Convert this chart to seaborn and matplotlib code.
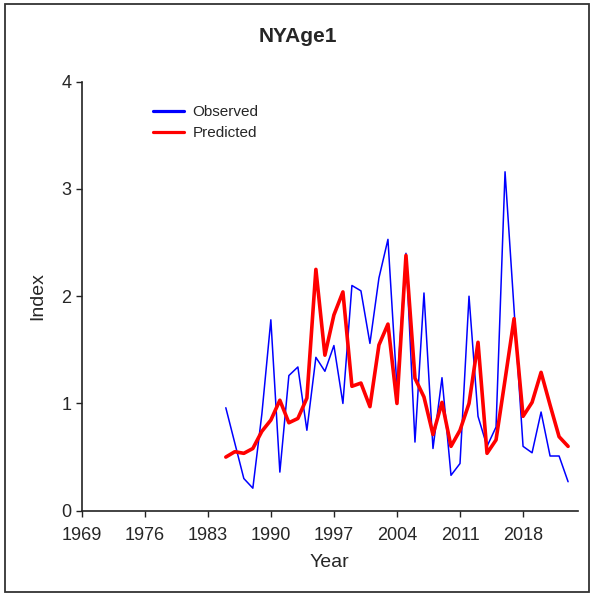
import seaborn as sns
import matplotlib.pyplot as plt
import matplotlib.patches as patches

# Datos
anios = list(range(1985, 2024))
observado = [0.96, 0.63, 0.30, 0.21, 0.90, 1.78, 0.36, 1.26, 1.34, 0.75,
             1.43, 1.30, 1.54, 1.00, 2.10, 2.05, 1.56, 2.17, 2.53, 1.15,
             2.40, 0.64, 2.03, 0.58, 1.24, 0.33, 0.44, 2.00, 0.88, 0.60,
             0.78, 3.16, 1.88, 0.60, 0.54, 0.92, 0.51, 0.51, 0.27]
predicho = [0.50, 0.55, 0.535, 0.58, 0.74, 0.845, 1.03, 0.82, 0.86, 1.05,
            2.25, 1.45, 1.825, 2.04, 1.16, 1.19, 0.97, 1.545, 1.74, 1.00,
            2.38, 1.235, 1.06, 0.71, 1.01, 0.60, 0.75, 1.00, 1.57, 0.535,
            0.66, 1.22, 1.79, 0.88, 1.01, 1.29, 0.985, 0.69, 0.60]
ticks_x = [1969, 1976, 1983, 1990, 1997, 2004, 2011, 2018]
ticks_y = [0, 1, 2, 3, 4]

sns.set_style('ticks')
plt.rcParams['font.family'] = ['Liberation Sans', 'DejaVu Sans']

fig = plt.figure(figsize=(5.92, 5.95), dpi=100)
ax = fig.add_axes([81.7 / 592, 1 - 510.7 / 595, (578 - 81.7) / 592, (510.7 - 81.7) / 595])

sns.lineplot(x=anios, y=observado, color='#0000ff', linewidth=1.1, label='Observed', ax=ax)
sns.lineplot(x=anios, y=predicho, color='#ff0000', linewidth=2.6, label='Predicted', ax=ax)

ax.set_xlim(1969, 2024.1)
ax.set_ylim(0, 4)
ax.set_xticks(ticks_x)
ax.set_yticks(ticks_y)
ax.tick_params(labelsize=13, length=4.5, width=1, color='#222222', pad=3)
ax.tick_params(axis='x', pad=7)
sns.despine(ax=ax)
for s in ['left', 'bottom']:
    ax.spines[s].set_color('#222222')
    ax.spines[s].set_linewidth(1.2)

fig.text(298 / 592, 1 - 36 / 595, 'NYAge1', fontsize=15, fontweight='bold',
         ha='center', va='center')
ax.set_xlabel('Year', fontsize=14, labelpad=7.5)
ax.set_ylabel('Index', fontsize=14, labelpad=11)

leg = ax.legend(loc='upper left', bbox_to_anchor=(0.1437, 0.945), frameon=False,
                fontsize=11, handlelength=2.0, labelspacing=0.45, handletextpad=0.6,
                borderpad=0, borderaxespad=0)
for ln in leg.get_lines():
    ln.set_linewidth(2.3)

# marco de la figura
fig.patches.append(patches.Rectangle((5 / 592, 3 / 595), 584 / 592, 588 / 595,
                                     transform=fig.transFigure, fill=False,
                                     edgecolor='#333333', linewidth=1.3))

plt.savefig('out.png', dpi=100)
